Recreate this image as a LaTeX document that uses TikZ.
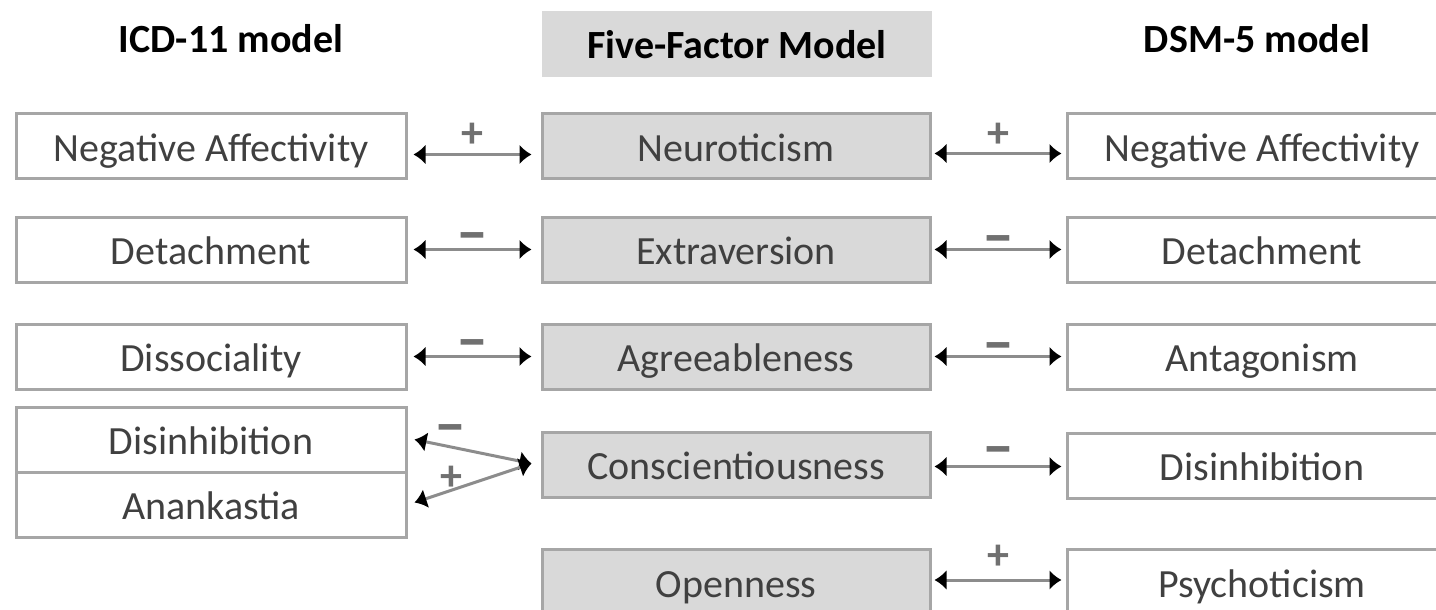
\documentclass[tikz,border=0pt]{standalone}
\usepackage{fontspec}
\setmainfont{Carlito}
\usetikzlibrary{arrows.meta}
\definecolor{boxgray}{HTML}{D9D9D9}
\definecolor{edgegray}{HTML}{A6A6A6}
\definecolor{linegray}{HTML}{8C8C8C}
\definecolor{signgray}{HTML}{707070}
\definecolor{textgray}{HTML}{404040}
\tikzset{
  trait/.style={draw=edgegray, line width=1.5pt, fill=white, minimum width=195pt, minimum height=32.5pt,
    inner sep=0pt, text=textgray, font=\fontsize{20}{24}\selectfont, text height=17pt, text depth=2pt},
  factor/.style={trait, fill=boxgray, minimum width=194pt},
  heading/.style={font=\fontsize{20}{24}\selectfont\bfseries, text height=17pt, text depth=2pt},
  link/.style={linegray, line width=1.5pt, {Latex[length=6pt,width=10pt,color=black]}-{Latex[length=6pt,width=10pt,color=black]}},
  plus/.style={text=signgray, font=\fontsize{22}{22}\selectfont\bfseries, inner sep=0pt, midway},
  minus/.style={text=signgray, font=\fontsize{32}{32}\selectfont\bfseries, inner sep=0pt, midway},
}

\begin{document}
\begin{tikzpicture}[x=0.5pt,y=-0.5pt]
			%%%%% START %%%%%
			\useasboundingbox (0,0) rectangle (1436,610);
			\clip (0,0) rectangle (1436,610);
			
			% headings
			\node[heading] (icd) at (231,38) {ICD-11 model};
			\node[heading, fill=boxgray, minimum width=195pt, minimum height=33pt] (ffm) at (737,44) {Five-Factor Model};
			\node[heading] (dsm) at (1257,38) {DSM-5 model};
			
			% ICD-11 domains
			\node[trait] (l1) at (211,146.5) {Negative Affectivity};
			\node[trait] (l2) at (211,249.5) {Detachment};
			\node[trait] (l3) at (211,356.5) {Dissociality};
			\node[trait] (l4) at (211,439.5) {Disinhibition};
			\node[trait] (l5) at (211,504.5) {Anankastia};
			
			% five factors
			\node[factor] (c1) at (736,146.5) {Neuroticism};
			\node[factor] (c2) at (736,249.5) {Extraversion};
			\node[factor] (c3) at (736,356.5) {Agreeableness};
			\node[factor] (c4) at (736,464.5) {Conscientiousness};
			\node[factor] (c5) at (736,582) {Openness};
			
			% DSM-5 domains
			\node[trait] (r1) at (1262,146.5) {Negative Affectivity};
			\node[trait] (r2) at (1262,249.5) {Detachment};
			\node[trait] (r3) at (1262,356.5) {Antagonism};
			\node[trait] (r4) at (1262,465.5) {Disinhibition};
			\node[trait] (r5) at (1262,582) {Psychoticism};
			
			% left links
			\draw[link] ([shift={(6,8)}]l1.east) -- node[plus, yshift=9.8pt] {+} ([shift={(-9,8)}]c1.west);
			\draw[link] ([shift={(6,0)}]l2.east) -- node[minus, yshift=3.2pt] {--} ([shift={(-9,0)}]c2.west);
			\draw[link] ([shift={(6,0)}]l3.east) -- node[minus, yshift=3.2pt] {--} ([shift={(-9,0)}]c3.west);
			\draw[link] ([shift={(-9,-1)}]c4.west) -- node[minus, pos=0.69, yshift=6.2pt] {--} ([shift={(7,0)}]l4.east);
			\draw[link] ([shift={(-9,-1)}]c4.west) -- node[plus, pos=0.68, yshift=6pt] {+} ([shift={(7,-2)}]l5.east);
			
			% right links
			\draw[link] ([shift={(3,7)}]c1.east) -- node[plus, yshift=9.3pt] {+} ([shift={(-4,7)}]r1.west);
			\draw[link] ([shift={(3,0)}]c2.east) -- node[minus, yshift=1.5pt] {--} ([shift={(-4,0)}]r2.west);
			\draw[link] ([shift={(3,0)}]c3.east) -- node[minus, yshift=1.5pt] {--} ([shift={(-4,0)}]r3.west);
			\draw[link] ([shift={(3,2)}]c4.east) -- node[minus, yshift=4.7pt] {--} ([shift={(-4,1)}]r4.west);
			\draw[link] ([shift={(3,-2)}]c5.east) -- node[plus, yshift=11.3pt] {+} ([shift={(-4,-2)}]r5.west);
			%%%%% END %%%%%
\end{tikzpicture}
\end{document}
